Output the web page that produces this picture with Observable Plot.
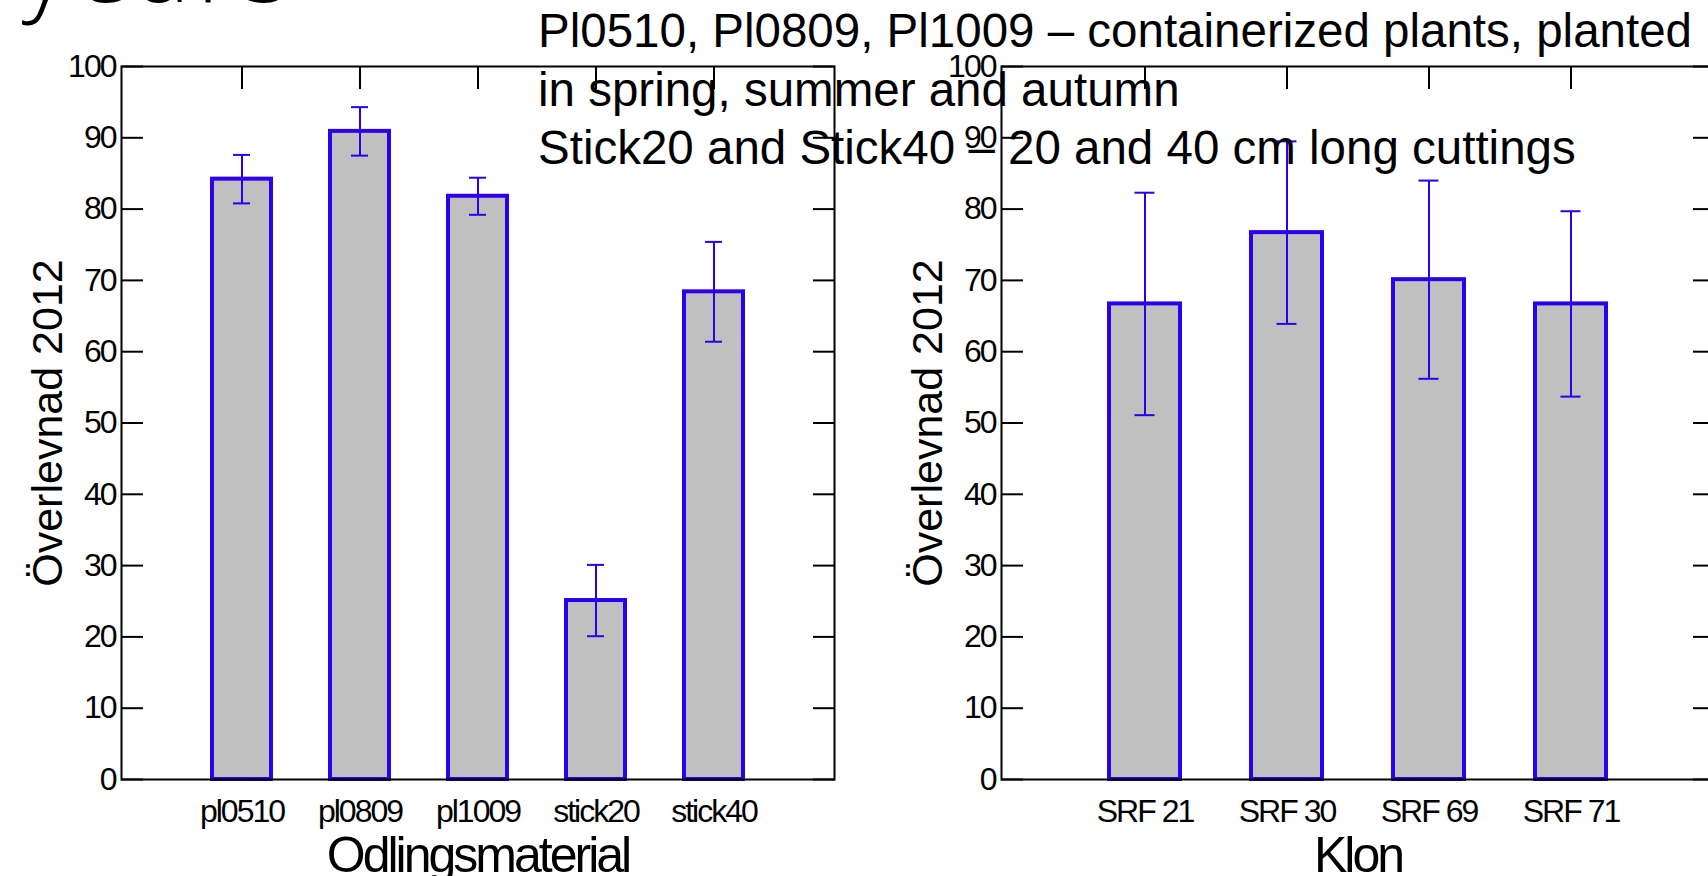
<!DOCTYPE html>
<html><head><meta charset="utf-8">
<script src="https://cdn.jsdelivr.net/npm/d3@7"></script>
<script src="https://cdn.jsdelivr.net/npm/@observablehq/plot@0.6"></script>
<style>
html,body{margin:0;padding:0;background:#fff;}
#wrap{position:relative;width:1708px;height:876px;overflow:hidden;background:#fff;}
#left,#right{position:absolute;top:0;width:880px;height:876px;}
#left{left:0px;} #right{left:880px;}
#left svg,#right svg{max-width:none !important;width:880px;height:876px;}
#overlay{position:absolute;left:0;top:0;}
</style></head>
<body><div id="wrap"><div id="left"></div><div id="right"></div><svg id="overlay" width="1708" height="876"></svg></div>
<script>
// ---- data ----
const leftCats = ["pl0510", "pl0809", "pl1009", "stick20", "stick40"];
const leftMeans = [84.2, 90.9, 81.8, 25.1, 68.4];
const leftErr = [3.4, 3.4, 2.6, 5.0, 7.0];
const rightCats = ["SRF 21", "SRF 30", "SRF 69", "SRF 71"];
const rightMeans = [66.7, 76.7, 70.1, 66.7];
const rightErr = [15.6, 12.8, 13.9, 13.0];
const yTicks = [0, 10, 20, 30, 40, 50, 60, 70, 80, 90, 100];
const yTitle = "Överlevnad 2012";
const leftXTitle = "Odlingsmaterial";
const rightXTitle = "Klon";
const titleLines = [
  "Pl0510, Pl0809, Pl1009 – containerized plants, planted",
  "in spring, summer and autumn",
  "Stick20 and Stick40 – 20 and 40 cm long cuttings"
];
const cornerWord = "years";

const BLUE = "#2a00ee";
const FONT = "'Liberation Sans', Arial, sans-serif";

function makeChart(cats, means, errs, xTitle, capInset) {
  const data = cats.map((c, i) => ({cat: c, v: means[i], lo: means[i] - errs[i], hi: means[i] + errs[i]}));
  const svg = Plot.plot({
    width: 880, height: 876,
    marginLeft: 121, marginRight: 46, marginTop: 66, marginBottom: 97,
    style: {fontFamily: FONT, background: "transparent", overflow: "visible", color: "black", maxWidth: "none"},
    x: {domain: cats, paddingInner: 0.5, paddingOuter: 0.75, label: null},
    y: {domain: [0, 100], label: null},
    marks: [
      Plot.barY(data, {x: "cat", y: "v", fill: "#c0c0c0", stroke: BLUE, strokeWidth: 4}),
      Plot.ruleX(data, {x: "cat", y1: "lo", y2: "hi", stroke: BLUE, strokeWidth: 2}),
      Plot.tickY(data, {x: "cat", y: "hi", stroke: BLUE, strokeWidth: 2, insetLeft: capInset, insetRight: capInset}),
      Plot.tickY(data, {x: "cat", y: "lo", stroke: BLUE, strokeWidth: 2, insetLeft: capInset, insetRight: capInset}),
      Plot.frame({stroke: "black", strokeWidth: 2}),
      Plot.axisY({ticks: yTicks, anchor: "left", tickSize: -22, tickPadding: 28, strokeWidth: 2, fontSize: 32, label: null}),
      Plot.axisY({ticks: yTicks, anchor: "right", tickSize: -22, strokeWidth: 2, tickFormat: () => "", label: null}),
      Plot.axisX({anchor: "top", tickSize: -22, strokeWidth: 2, tickFormat: () => "", label: null}),
      Plot.axisX({anchor: "bottom", tickSize: 0, tickPadding: 20, fontSize: 32, label: null}),
      Plot.text([yTitle], {frameAnchor: "left", textAnchor: "middle", lineAnchor: "middle", rotate: -90, dx: -73, fontSize: 43, fill: "black"}),
      Plot.text([xTitle], {frameAnchor: "bottom", textAnchor: "middle", lineAnchor: "middle", dy: 76, fontSize: 50, fill: "black"})
    ]
  });
  const s = d3.select(svg);
  s.selectAll('g[aria-label="x-axis tick label"] text, g[aria-label="y-axis tick label"] text')
    .style("letter-spacing", "-2px");
  s.selectAll("text").filter(function() { return this.textContent === xTitle; })
    .style("letter-spacing", "-3px");
  return svg;
}

document.getElementById("left").appendChild(makeChart(leftCats, leftMeans, leftErr, leftXTitle, 21));
document.getElementById("right").appendChild(makeChart(rightCats, rightMeans, rightErr, rightXTitle, 25.5));

const ov = d3.select("#overlay");
ov.append("text").attr("x", 22).attr("y", 2)
  .attr("font-family", "'Open Sans', sans-serif").attr("font-weight", 300)
  .attr("font-size", 100).style("letter-spacing", "7px").attr("fill", "black").text(cornerWord);
const baselines = [47, 106, 164];
titleLines.forEach((t, i) => {
  ov.append("text").attr("x", 538).attr("y", baselines[i])
    .attr("font-family", FONT).attr("font-size", 47.5).attr("fill", "black").text(t);
});
</script>
</body></html>
